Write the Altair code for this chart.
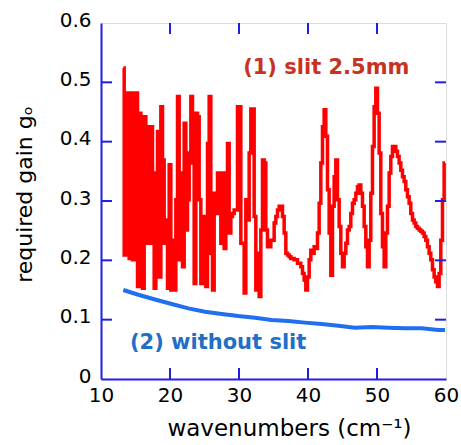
import altair as alt
import pandas as pd

# ---- data ----
WN_START = 13.24   # first sampled wavenumber (cm-1)
WN_STEP = 0.2415   # sampling step (cm-1)
slit_gain = [
    0.524, 0.209, 0.223, 0.482, 0.203, 0.482, 0.201, 0.389, 0.482, 0.156,
    0.448, 0.263, 0.153, 0.442, 0.229, 0.425, 0.229, 0.425, 0.347, 0.153,
    0.319, 0.417, 0.172, 0.459, 0.369, 0.229, 0.268, 0.153, 0.361, 0.150,
    0.234, 0.150, 0.302, 0.476, 0.201, 0.347, 0.189, 0.431, 0.251, 0.302,
    0.381, 0.476, 0.364, 0.161, 0.448, 0.442, 0.302, 0.161, 0.274, 0.246,
    0.156, 0.397, 0.476, 0.212, 0.150, 0.313, 0.279, 0.347, 0.347, 0.229,
    0.347, 0.220, 0.268, 0.397, 0.246, 0.274, 0.279, 0.285, 0.285, 0.459,
    0.459, 0.229, 0.229, 0.145, 0.302, 0.268, 0.381, 0.455, 0.455, 0.274,
    0.150, 0.212, 0.139, 0.251, 0.369, 0.364, 0.251, 0.223, 0.223, 0.234,
    0.234, 0.263, 0.274, 0.285, 0.291,
    0.291, 0.274, 0.246, 0.212, 0.209, 0.206, 0.203, 0.203, 0.201, 0.201,
    0.195, 0.195, 0.189, 0.178, 0.167, 0.150, 0.172, 0.201, 0.217, 0.212,
    0.223, 0.220, 0.246, 0.296, 0.364, 0.425, 0.454, 0.409, 0.319, 0.246,
    0.175, 0.291, 0.341, 0.369, 0.302, 0.257, 0.212, 0.189, 0.212, 0.229,
    0.251, 0.257, 0.279, 0.296, 0.302, 0.313, 0.324, 0.327, 0.313, 0.291,
    0.257, 0.223, 0.189, 0.234, 0.313, 0.392, 0.459, 0.490, 0.448, 0.381,
    0.279, 0.223, 0.189, 0.246, 0.291, 0.347, 0.375, 0.392, 0.392, 0.384,
    0.375, 0.364, 0.352, 0.341, 0.333, 0.319, 0.307, 0.296, 0.279, 0.268,
    0.263, 0.257, 0.254, 0.251, 0.249, 0.246, 0.240, 0.234, 0.223, 0.212,
    0.201, 0.184, 0.172, 0.164, 0.156, 0.178, 0.234, 0.302, 0.364,
]
slit_wn = [round(WN_START + WN_STEP * i, 3) for i in range(len(slit_gain))]

noslit_wn = [13.23, 15.41, 17.83, 20.24, 22.66, 25.07, 27.49, 29.90, 32.32, 34.73,
             37.15, 39.57, 41.98, 44.40, 46.81, 49.23, 51.64, 54.06, 56.48, 58.88, 59.86]
noslit_gain = [0.150, 0.142, 0.134, 0.1265, 0.119, 0.1135, 0.1096, 0.106, 0.1034, 0.0995,
               0.0978, 0.095, 0.0927, 0.0899, 0.0865, 0.0877, 0.0865, 0.0855, 0.0855, 0.0826, 0.0826]

x_ticks = [10, 20, 30, 40, 50, 60]
y_ticks = [0, 0.1, 0.2, 0.3, 0.4, 0.5, 0.6]
x_inner_ticks = [20, 30, 40, 50]
y_inner_ticks = [0.1, 0.2, 0.3, 0.4, 0.5]

labels = ["(1) slit 2.5mm", "(2) without slit"]
label_x = [30.6, 14.2]
label_y = [0.524, 0.061]

FRAME = "#1f1fe6"
FONT = "DejaVu Sans"
W, H = 345, 356
TICK = 11

df_slit = pd.DataFrame({"wn": slit_wn, "g": slit_gain})
df_noslit = pd.DataFrame({"wn": noslit_wn, "g": noslit_gain})
df_lab1 = pd.DataFrame({"wn": [label_x[0]], "g": [label_y[0]], "t": [labels[0]]})
df_lab2 = pd.DataFrame({"wn": [label_x[1]], "g": [label_y[1]], "t": [labels[1]]})
df_xt = pd.DataFrame({"wn": x_inner_ticks})
df_yt = pd.DataFrame({"g": y_inner_ticks})

xscale = alt.Scale(domain=[10, 60], nice=False, zero=False)
yscale = alt.Scale(domain=[0, 0.6], nice=False, zero=False)

axis_style = dict(
    grid=False, domainColor=FRAME, domainWidth=2, ticks=False,
    labelFont=FONT, labelFontSize=20, labelColor="black", labelFlush=False,
    titleFont=FONT, titleFontWeight="normal", titleColor="black",
)

x_bottom = alt.Axis(values=x_ticks, format="d", orient="bottom", labelPadding=6,
                    title="wavenumbers (cm⁻¹)", titleX=188, titleY=56, titleFontSize=23,
                    titleBaseline="alphabetic", **axis_style)
y_left = alt.Axis(values=y_ticks, orient="left", labelPadding=10, labelOffset=-3,
                  labelExpr="datum.value == 0 ? '0' : format(datum.value, '.1f')",
                  title="required gain gₒ", titleX=-77, titleY=171, titleFontSize=22,
                  titleBaseline="middle", titleAngle=-90, **axis_style)

red = alt.Chart(df_slit).mark_line(color="#ff0000", strokeWidth=3.5, interpolate="step").encode(
    x=alt.X("wn:Q", scale=xscale, axis=x_bottom),
    y=alt.Y("g:Q", scale=yscale, axis=y_left),
)
blue = alt.Chart(df_noslit).mark_line(color="#1f6ff0", strokeWidth=4).encode(
    x=alt.X("wn:Q", scale=xscale),
    y=alt.Y("g:Q", scale=yscale),
)
t1 = alt.Chart(df_lab1).mark_text(align="left", baseline="middle", font=FONT, fontSize=21,
                                  fontWeight="bold", color="#c8321f").encode(
    x=alt.X("wn:Q", scale=xscale), y=alt.Y("g:Q", scale=yscale), text="t:N")
t2 = alt.Chart(df_lab2).mark_text(align="left", baseline="middle", font=FONT, fontSize=21,
                                  fontWeight="bold", color="#1f6fc8").encode(
    x=alt.X("wn:Q", scale=xscale), y=alt.Y("g:Q", scale=yscale), text="t:N")

# inward ticks on all four sides
tick_style = dict(color=FRAME, strokeWidth=2)
xt_bottom = alt.Chart(df_xt).mark_rule(**tick_style).encode(
    x=alt.X("wn:Q", scale=xscale), y=alt.value(H), y2=alt.value(H - TICK))
xt_top = alt.Chart(df_xt).mark_rule(**tick_style).encode(
    x=alt.X("wn:Q", scale=xscale), y=alt.value(0), y2=alt.value(TICK))
yt_left = alt.Chart(df_yt).mark_rule(**tick_style).encode(
    y=alt.Y("g:Q", scale=yscale), x=alt.value(0), x2=alt.value(TICK))
yt_right = alt.Chart(df_yt).mark_rule(**tick_style).encode(
    y=alt.Y("g:Q", scale=yscale), x=alt.value(W), x2=alt.value(W - TICK))

chart = alt.layer(red, blue, t1, t2, xt_bottom, xt_top, yt_left, yt_right).properties(
    width=W, height=H,
    autosize=alt.AutoSizeParams(type="none"),
    padding={"left": 101, "top": 23, "right": 15, "bottom": 66},
).configure_view(stroke=FRAME, strokeWidth=2).configure(background="white")

chart.save("out.html", embed_options={"renderer": "svg", "actions": False})
